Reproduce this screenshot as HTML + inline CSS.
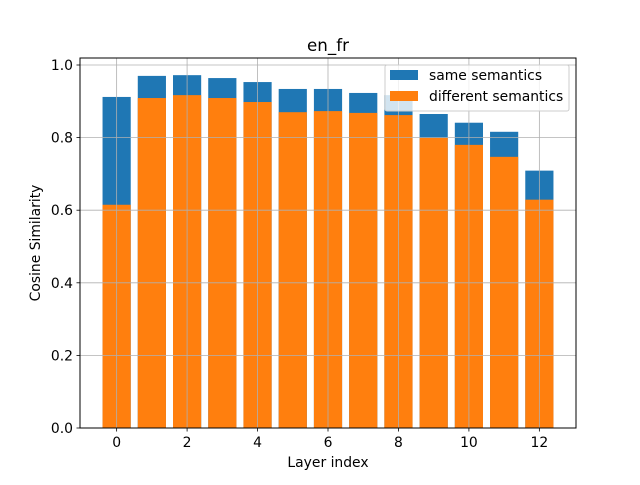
<!DOCTYPE html>
<html><head><meta charset="utf-8"><style>
body{margin:0;background:#fff}
svg text{font-family:"DejaVu Sans","Liberation Sans",sans-serif;fill:#000}
</style></head><body>
<svg id="chart" width="640" height="480">
<text x="328" y="51" font-size="16.7" text-anchor="middle">en_fr</text>
<g id="bars"></g>
<g id="grid"></g>
<rect x="80" y="58" width="496" height="370" fill="none" stroke="#000" stroke-width="1"/>
<g id="ticks"></g>
<text x="328" y="467" font-size="13.9" text-anchor="middle">Layer index</text>
<text transform="translate(40,243) rotate(-90)" font-size="13.9" text-anchor="middle">Cosine Similarity</text>
<g>
<rect x="385" y="65" width="184" height="46" rx="2" fill="#fff" fill-opacity="0.8" stroke="#ccc"/>
<rect x="390" y="70" width="28" height="10" fill="#1f77b4"/>
<text x="429" y="80" font-size="13.9">same semantics</text>
<rect x="390" y="91" width="28" height="10" fill="#ff7f0e"/>
<text x="429" y="101" font-size="13.9">different semantics</text>
</g>
</svg>
<script>
const layers=[0,1,2,3,4,5,6,7,8,9,10,11,12];
const sameVals=[0.912,0.970,0.972,0.964,0.953,0.934,0.934,0.923,0.917,0.865,0.841,0.816,0.709];
const diffVals=[0.615,0.909,0.917,0.909,0.898,0.870,0.873,0.868,0.862,0.800,0.780,0.747,0.629];
const xTicks=[0,2,4,6,8,10,12];
const yTicks=[0,0.2,0.4,0.6,0.8,1.0];
const NS="http://www.w3.org/2000/svg";
const X=v=>80+(v+1.04)/14.08*496;
const Y=v=>428-v*363;
const bw=0.8*496/14.08;
const bars=document.getElementById('bars'),grid=document.getElementById('grid'),ticks=document.getElementById('ticks');
function mk(tag,at,parent){const e=document.createElementNS(NS,tag);for(const k in at)e.setAttribute(k,at[k]);parent.appendChild(e);return e;}
layers.forEach((l,i)=>{
 let r=mk('rect',{x:X(l)-bw/2,y:Y(sameVals[i]),width:bw,height:428-Y(sameVals[i]),fill:'#1f77b4'},bars);
 
 
 let d=mk('rect',{x:X(l)-bw/2,y:Y(diffVals[i]),width:bw,height:428-Y(diffVals[i]),fill:'#ff7f0e'},bars);
 
 
});
xTicks.forEach(t=>{
 const x=X(t);
 let g=mk('line',{x1:x,x2:x,y1:58,y2:428,stroke:'#b0b0b0','stroke-width':0.8},grid);
 
 
 mk('line',{x1:x,x2:x,y1:428,y2:431.5,stroke:'#000','stroke-width':0.8},ticks);
 let tx=mk('text',{x:x,y:447,'font-size':13.9,'text-anchor':'middle'},ticks);tx.textContent=t;
 
 
});
yTicks.forEach(t=>{
 const y=Y(t);
 let g=mk('line',{x1:80,x2:576,y1:y,y2:y,stroke:'#b0b0b0','stroke-width':0.8},grid);
 
 
 mk('line',{x1:76.5,x2:80,y1:y,y2:y,stroke:'#000','stroke-width':0.8},ticks);
 let tx=mk('text',{x:73,y:y+5,'font-size':13.9,'text-anchor':'end'},ticks);tx.textContent=t.toFixed(1);
 
 
});
</script>
</body></html>
